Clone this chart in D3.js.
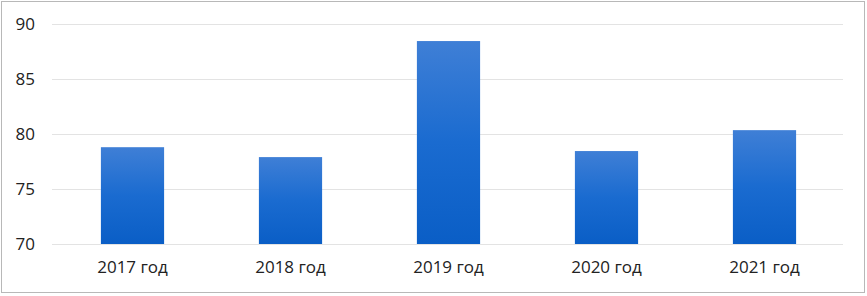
<!DOCTYPE html>
<html>
<head>
<meta charset="utf-8">
<script src="https://cdn.jsdelivr.net/npm/d3@7"></script>
<style>
  body { margin: 0; background: #fff; }
  svg { display: block; }
</style>
</head>
<body>
<svg width="867" height="296"></svg>
<script>
const years = ["2017 год", "2018 год", "2019 год", "2020 год", "2021 год"];
const values = [78.8, 77.9, 88.45, 78.45, 80.35];
const yTicks = [70, 75, 80, 85, 90];

const svg = d3.select("svg"),
    width = +svg.attr("width"),
    height = +svg.attr("height");

// outer frame
svg.append("rect")
    .attr("x", 1.5).attr("y", 1.5)
    .attr("width", width - 4).attr("height", height - 5)
    .attr("fill", "#fff")
    .attr("stroke", "#b8b8b8");

const x = d3.scaleBand()
    .domain(years)
    .range([53.5, 843.5])
    .paddingInner(0.6)
    .paddingOuter(0.3);

const y = d3.scaleLinear()
    .domain([70, 90])
    .range([244, 24]);

const defs = svg.append("defs");
const grad = defs.append("linearGradient")
    .attr("id", "barGrad")
    .attr("x1", 0).attr("y1", 0).attr("x2", 0).attr("y2", 1);
grad.append("stop").attr("offset", "0%").attr("stop-color", "#3f7fd6");
grad.append("stop").attr("offset", "50%").attr("stop-color", "#1a6bd0");
grad.append("stop").attr("offset", "100%").attr("stop-color", "#0a5ec6");

// gridlines
svg.append("g")
    .selectAll("line")
    .data(yTicks)
    .enter().append("line")
    .attr("x1", 52).attr("x2", 843)
    .attr("y1", d => y(d) + 0.5).attr("y2", d => y(d) + 0.5)
    .attr("stroke", "#e3e3e3")
    .attr("stroke-width", 1);

// bars
svg.append("g")
    .selectAll("rect")
    .data(values)
    .enter().append("rect")
    .attr("x", (d, i) => x(years[i]))
    .attr("width", x.bandwidth())
    .attr("y", d => y(d))
    .attr("height", d => y(70) - y(d))
    .attr("fill", "url(#barGrad)");

// y axis labels
const yAxis = d3.axisLeft(y).tickValues(yTicks).tickSize(0).tickPadding(0);
svg.append("g")
    .attr("transform", "translate(35,0)")
    .call(yAxis)
    .call(g => g.select(".domain").remove())
    .selectAll("text")
    .attr("font-family", "'Open Sans', sans-serif")
    .attr("font-size", 17)
    .attr("fill", "#222");

// x axis labels
const xAxis = d3.axisBottom(x).tickSize(0).tickPadding(0);
svg.append("g")
    .attr("transform", "translate(0,261)")
    .call(xAxis)
    .call(g => g.select(".domain").remove())
    .selectAll("text")
    .attr("font-family", "'Open Sans', sans-serif")
    .attr("font-size", 17)
    .attr("fill", "#222");
</script>
</body>
</html>
